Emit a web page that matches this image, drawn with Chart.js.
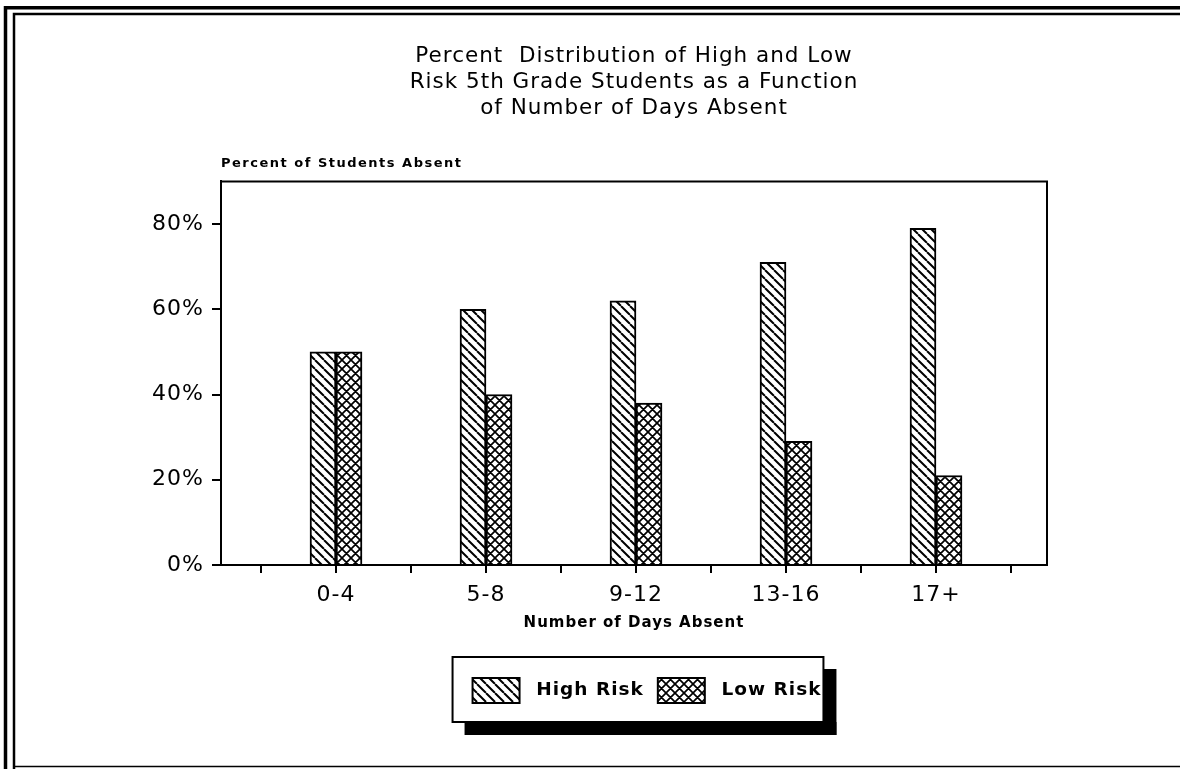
<!DOCTYPE html>
<html><head><meta charset="utf-8">
<script src="https://cdn.jsdelivr.net/npm/chart.js@4/dist/chart.umd.min.js"></script>
<style>html,body{margin:0;padding:0;background:#fff;overflow:hidden}canvas{display:block}</style>
</head><body>
<canvas id="c" width="1180" height="769"></canvas>
<script>
const categories = ['0-4', '5-8', '9-12', '13-16', '17+'];
const highRisk = [50, 60, 62, 71, 79];
const lowRisk = [50, 40, 38, 29, 21];
const yTicks = [0, 20, 40, 60, 80];
const xTickValues = [-0.5, 0, 0.5, 1, 1.5, 2, 2.5, 3, 3.5, 4, 4.5];
const seriesNames = ['High Risk', 'Low Risk'];
const titleLines = ['Percent  Distribution of High and Low', 'Risk 5th Grade Students as a Function', 'of Number of Days Absent'];
const yAxisTitle = 'Percent of Students Absent';
const xAxisTitle = 'Number of Days Absent';

function makePattern(cross) {
  const s = 9;
  const c = document.createElement('canvas');
  c.width = s; c.height = s;
  const g = c.getContext('2d');
  g.fillStyle = '#fff'; g.fillRect(0, 0, s, s);
  g.strokeStyle = '#000'; g.lineWidth = cross ? 1.7 : 2;
  g.beginPath();
  for (let k = -1; k <= 1; k++) { g.moveTo(k * s, 0); g.lineTo(k * s + s, s); }
  if (cross) for (let k = -1; k <= 1; k++) { g.moveTo(k * s + s, 0); g.lineTo(k * s, s); }
  g.stroke();
  return g.createPattern(c, 'repeat');
}

const LS = '1px';
const decor = {
  id: 'decor',
  beforeUpdate(chart) { chart.ctx.letterSpacing = LS; },
  beforeLayout(chart) { chart.ctx.letterSpacing = LS; },
  afterLayout(chart) {
    if (chart.legend) { chart.legend.left += 13; chart.legend.right += 13; }
  },
  beforeDraw(chart) {
    const ctx = chart.ctx;
    ctx.letterSpacing = LS;
    ctx.save();
    ctx.fillStyle = '#fff'; ctx.fillRect(0, 0, chart.width, chart.height);
    const hb = chart.legend && chart.legend.legendHitBoxes;
    if (hb && hb.length) {
      const first = hb[0], last = hb[hb.length - 1];
      const L = first.left - 20, R = last.left + last.width + 2;
      const T = first.top - 21, B = first.top + first.height + 19;
      ctx.fillStyle = '#000';
      ctx.fillRect(L + 12, B, R - L + 1, 13);
      ctx.fillRect(R, T + 12, 13, B - T + 1);
      ctx.fillStyle = '#fff'; ctx.fillRect(L, T, R - L, B - T);
      ctx.strokeStyle = '#000'; ctx.lineWidth = 2; ctx.strokeRect(L, T, R - L, B - T);
    }
    ctx.restore();
  },
  afterDraw(chart) {
    const ctx = chart.ctx, a = chart.chartArea;
    ctx.save();
    ctx.strokeStyle = '#000'; ctx.lineWidth = 2;
    ctx.beginPath(); ctx.moveTo(a.left, a.top); ctx.lineTo(a.right, a.top); ctx.lineTo(a.right, a.bottom); ctx.stroke();
    ctx.fillStyle = '#000'; ctx.font = 'bold 13px "DejaVu Sans"';
    ctx.textBaseline = 'middle'; ctx.textAlign = 'left'; ctx.letterSpacing = '1.5px';
    ctx.fillText(yAxisTitle, a.left, a.top - 18);
    ctx.lineWidth = 3.5;
    ctx.beginPath(); ctx.moveTo(5.5, 769); ctx.lineTo(5.5, 7.7); ctx.lineTo(1180, 7.7); ctx.stroke();
    ctx.lineWidth = 2.5;
    ctx.beginPath(); ctx.moveTo(14, 769); ctx.lineTo(14, 14); ctx.lineTo(1180, 14); ctx.stroke();
    ctx.lineWidth = 1.5;
    ctx.beginPath(); ctx.moveTo(14, 766.5); ctx.lineTo(1180, 766.5); ctx.stroke();
    ctx.restore();
  }
};

new Chart(document.getElementById('c'), {
  type: 'bar',
  data: {
    datasets: [
      { label: seriesNames[0], data: highRisk.map((v, i) => ({ x: i, y: v })), backgroundColor: makePattern(false), borderColor: '#000', borderWidth: 2, barThickness: 26 },
      { label: seriesNames[1], data: lowRisk.map((v, i) => ({ x: i, y: v })), backgroundColor: makePattern(true), borderColor: '#000', borderWidth: 2, barThickness: 26 }
    ]
  },
  options: {
    responsive: false, animation: false, devicePixelRatio: 1,
    layout: { padding: { left: 0, right: 133, top: 0, bottom: 56 } },
    plugins: {
      title: { display: true, text: titleLines, fullSize: false, color: '#000',
        font: { family: 'DejaVu Sans', size: 21.5, weight: 'normal', lineHeight: 1.2 },
        padding: { top: 44, bottom: 60 } },
      legend: { position: 'bottom', fullSize: false,
        labels: { boxWidth: 47, boxHeight: 25, padding: 14, color: '#000',
          font: { family: 'DejaVu Sans', size: 18.5, weight: 'bold' },
          generateLabels(chart) {
            return Chart.defaults.plugins.legend.labels.generateLabels(chart)
              .map(l => Object.assign(l, { text: ' ' + l.text }));
          } } },
      tooltip: { enabled: false }
    },
    scales: {
      x: {
        type: 'linear', min: -0.7667, max: 4.74, offset: false,
        afterBuildTicks(s) { s.ticks = xTickValues.map(v => ({ value: v })); },
        ticks: { autoSkip: false, maxRotation: 0, padding: 9, color: '#000',
          font: { family: 'DejaVu Sans', size: 22 },
          callback: (v) => Number.isInteger(v) ? categories[v] : '' },
        grid: { display: true, offset: false, drawOnChartArea: false, drawTicks: true, tickLength: 8, color: '#000', lineWidth: 2 },
        border: { display: true, color: '#000', width: 2 },
        title: { display: true, text: xAxisTitle, color: '#000',
          font: { family: 'DejaVu Sans', size: 15, weight: 'bold' }, padding: 32 },
        afterFit(s) { s.height = 99; }
      },
      y: {
        min: 0, max: 90,
        afterBuildTicks(s) { s.ticks = yTicks.map(v => ({ value: v })); },
        ticks: { padding: 8, color: '#000', font: { family: 'DejaVu Sans', size: 22 }, callback: (v) => v + '%' },
        grid: { drawOnChartArea: false, drawTicks: true, tickLength: 9, color: '#000', lineWidth: 2 },
        border: { display: true, color: '#000', width: 2 },
        afterFit(s) { s.width = 221; }
      }
    }
  },
  plugins: [decor]
});
</script>
</body></html>
